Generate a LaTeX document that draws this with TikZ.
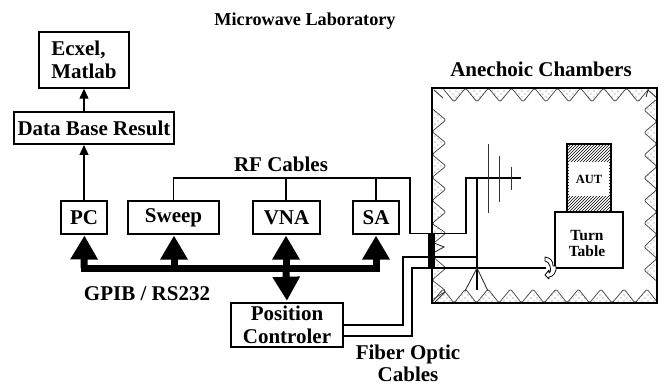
\documentclass[tikz,border=0pt]{standalone}
\usepackage{fontspec}
\setmainfont{Liberation Serif}
\usetikzlibrary{arrows.meta,patterns,calc}
\pgfdeclarepatternformonly{sdots}{\pgfqpoint{-1pt}{-1pt}}{\pgfqpoint{5pt}{5pt}}{\pgfqpoint{6pt}{6pt}}{%
  \pgfpathcircle{\pgfqpoint{0pt}{0pt}}{.55pt}\pgfpathcircle{\pgfqpoint{3pt}{3pt}}{.55pt}\pgfusepath{fill}}
\tikzset{
 box/.style={draw,line width=1.4pt,fill=white,inner sep=0pt,font=\fontsize{21}{23}\selectfont\bfseries,align=center},
 lbl/.style={inner sep=0pt,font=\fontsize{21}{23}\selectfont\bfseries,align=center},
 small/.style={inner sep=0pt,font=\fontsize{15.5}{16}\selectfont\bfseries,align=center},
 wire/.style={draw,line width=1.2pt},
 thinarrow/.style={line width=1.2pt,-{Triangle[width=9pt,length=10pt]}},
 busline/.style={line width=7pt},
 busarrow/.style={line width=7pt,-{Triangle[width=26pt,length=24pt]},shorten >=1.5pt},
 absorber/.style={line width=.7pt,draw=black!75,rounded corners=2pt,pattern=sdots,pattern color=black!55},
 element/.style={line width=.9pt,draw=black!80},
}
\begin{document}
\begin{tikzpicture}[x=1pt,y=-1pt]
\useasboundingbox (0,0) rectangle (664,385);
% chamber absorbers
\path[absorber] (442.5,88) \foreach \a in {454,477,500,523,546,569,592,615,638} {-- (\a,102) -- (\a+11.5,88)} -- cycle;
\path[absorber] (431.5,303) \foreach \a in {443,465.5,488,510.5,533,556,578.5,601,624,647} {-- (\a,289) -- (\a+11,303)} -- cycle;
\path[absorber] (432,108.5) \foreach \a in {120,143,166,189,212,233} {-- (446,\a) -- (432,\a+11.5)} -- cycle;
\path[absorber] (432,256) -- (446,268) -- (432,280) -- (446,291) -- (432,300) -- cycle;
\path[absorber] (657,99) \foreach \a in {110,132.5,155,178,200.5,223,247,270} {-- (644,\a) -- (657,\a+11.5)} -- cycle;
\draw[element] (434,243) -- (444,247) -- (435,252);
\draw[element] (434,90) -- (443,98) (657,98) -- (648,90) -- (646,97) (435,302) -- (445,292);
% chamber
\node[draw,line width=1.8pt,minimum width=225pt,minimum height=215pt,inner sep=0pt] (chamber) at (544.5,195.5) {};
% boxes
\node[box,align=left,minimum width=90pt,minimum height=56pt] (excel) at (84,60) {Ecxel,\\Matlab};
\node[box,line width=1.8pt,minimum width=160pt,minimum height=32pt] (dbr) at (94,128) {Data Base Result};
\node[box,minimum width=46pt,minimum height=33pt] (pc) at (84,217.5) {PC};
\node[box,minimum width=91pt,minimum height=33pt] (sweep) at (173.5,217.5) {\raisebox{1pt}{Sweep}};
\node[box,minimum width=67pt,minimum height=33pt] (vna) at (286.5,217.5) {VNA};
\node[box,minimum width=46pt,minimum height=33pt] (sa) at (376,217.5) {SA};
\node[box,minimum width=112pt,minimum height=44pt] (pos) at (287,325) {Position\\Controler};
% connector block on chamber wall
\node[fill=black,minimum width=7pt,minimum height=34pt,inner sep=0pt] (port) at (431.5,251) {};
% AUT and turn table
\node[draw,line width=1.4pt,pattern=north east lines,minimum width=44pt,minimum height=68pt,inner sep=0pt] (autb) at (589,178) {};
\node[fill=white,minimum width=40pt,minimum height=33pt,inner sep=0pt,font=\fontsize{12.5}{14}\selectfont\bfseries] (aut) at (589,179) {AUT};
\node[draw,line width=1.4pt,fill=white,minimum width=68pt,minimum height=56pt,inner sep=0pt] (tt) at (589,240) {};
\node[small] (ttl) at (587,243) {Turn\\Table};
% junction coordinates
\coordinate (rfl) at (173.5,178);
\coordinate (rfr) at (410,178);
\coordinate (rfb) at (410,233.5);
\coordinate (ant) at (466,233.5);
\coordinate (anu) at (466,178);
\coordinate (boom) at (521,178);
\coordinate (mast) at (477,178);
\coordinate (mastb) at (477,290);
\coordinate (leg) at (477,268);
\coordinate (legl) at (465,291);
\coordinate (legr) at (488,291);
\coordinate (fa1) at (343,325);
\coordinate (fa2) at (403,325);
\coordinate (fa3) at (403,257);
\coordinate (fa4) at (477,257);
\coordinate (fb1) at (343,336);
\coordinate (fb2) at (412,336);
\coordinate (fb3) at (412,268);
\coordinate (fb4) at (546,268);
\coordinate (rfv) at (286,178);
\coordinate (rfs) at (376,178);
% RF cables
\draw[wire] (sweep.north) -- (rfl) -- (rfr) -- (rfb) -- (ant) -- (anu) -- (boom);
\draw[wire] (rfv) -- (rfv |- vna.north);
\draw[wire] (rfs) -- (sa.north);
% fibre
\draw[wire] (fa1) -- (fa2) -- (fa3) -- (fa4);
\draw[wire] (fb1) -- (fb2) -- (fb3) -- (fb4);
\draw[wire] (mast) -- (mastb);
\draw[element] (legl) -- (leg) -- (legr);
% antenna elements
\coordinate (e1t) at (488,144); \coordinate (e1b) at (488,213);
\coordinate (e2t) at (499,156); \coordinate (e2b) at (499,202);
\coordinate (e3t) at (511,167); \coordinate (e3b) at (511,190);
\draw[element] (e1t) -- (e1b) (e2t) -- (e2b) (e3t) -- (e3b);
% curved arrow on the turn table
\draw[line width=.8pt,fill=white,line join=round] (545,257) .. controls (551,258) and (553,261) .. (553,266) -- (556,266) .. controls (557,272) and (553,277) .. (549,277) -- (549,279) -- (545,275) -- (549,270) -- (549,273) .. controls (551,272) and (551,268) .. (550,266) .. controls (549,263) and (547,261) .. (545,261) -- cycle;
% upper arrows
\draw[thinarrow] (pc.north) -- (84,145);
\draw[thinarrow] (84,112) -- (excel.south);
% GPIB bus
\coordinate (bl) at (84,268);
\coordinate (bs) at (174,268);
\coordinate (bv) at (286,268);
\coordinate (br) at (376,268);
\draw[busline] (80.5,268) -- (379.5,268);
\draw[busarrow] (bl) -- (84.5,234);
\draw[busarrow] (bs) -- (174,234);
\draw[busarrow] (bv) -- (286,234);
\draw[busarrow] (br) -- (376,234);
\draw[busarrow] (bv) -- (pos.north);
% labels
\node[lbl,font=\fontsize{18.2}{20}\selectfont\bfseries] (t1) at (305,21) {Microwave Laboratory};
\node[lbl] (t2) at (541,69) {Anechoic Chambers};
\node[lbl] (t3) at (281,164) {RF Cables};
\node[lbl] (t4) at (147,294) {GPIB / RS232};
\node[lbl,font=\fontsize{21}{22}\selectfont\bfseries] (t5) at (408,363) {Fiber Optic\\Cables};
\end{tikzpicture}
\end{document}
